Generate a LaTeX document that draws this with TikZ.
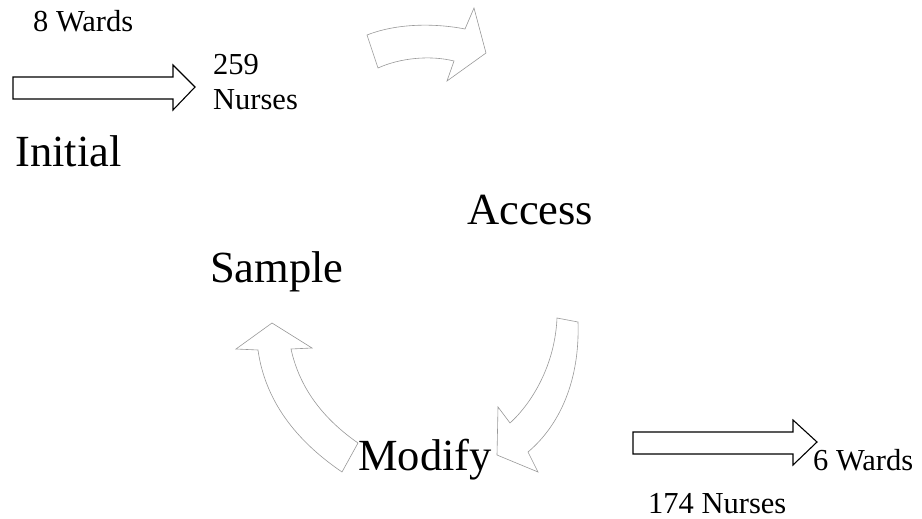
\documentclass[tikz,border=0pt]{standalone}
\usepackage{fontspec}
\setmainfont{Liberation Serif}
\begin{document}
\begin{tikzpicture}[x=1pt,y=-1pt,
  small/.style={anchor=base west,inner sep=0pt,font=\fontsize{30.5}{34}\selectfont},
  big/.style={anchor=base west,inner sep=0pt,font=\fontsize{44.5}{50}\selectfont},
  blockarrow/.style={draw=black,line width=1.1pt,fill=white,line join=miter},
  cyclearrow/.style={draw=black!40,line width=0.6pt,fill=white,line join=miter}]
\useasboundingbox (0,0) rectangle (922,519);
% block arrows
\draw[blockarrow] (13,77) -- (173,77) -- (173,65) -- (195,87) -- (173,110) -- (173,99) -- (13,99) -- cycle;
\draw[blockarrow] (633,432) -- (793,432) -- (793,420) -- (817,442) -- (793,465) -- (793,454) -- (633,454) -- cycle;
% cycle arrows
\draw[cyclearrow] (367,35) .. controls (400,22) and (440,24) .. (465,29) -- (474,8) -- (486,53) -- (447,81) -- (454,61) .. controls (430,55) and (400,58) .. (378,68) -- cycle;
\draw[cyclearrow] (272,323) -- (312,348) -- (291,349) .. controls (300,390) and (325,420) .. (358,443) -- (342,472) .. controls (295,440) and (265,400) .. (258,350) -- (236,349) -- cycle;
\draw[cyclearrow] (557,318) .. controls (555,365) and (532,403) .. (510,423) -- (498,407) -- (497,455) -- (538,472) -- (528,452) .. controls (560,425) and (580,380) .. (578,322) -- cycle;
% texts
\node[small] (w8) at (33,32) {8 Wards};
\node[small] (n259) at (213,75) {259};
\node[small] (nurses) at (213,110) {Nurses};
\node[big] (initial) at (15,166) {Initial};
\node[big] (access) at (467,224) {Access};
\node[big] (sample) at (210,282) {Sample};
\node[big] (modify) at (358,470) {Modify};
\node[small] (w6) at (813,470) {6 Wards};
\node[small] (n174) at (648,513) {174 Nurses};
\end{tikzpicture}
\end{document}
